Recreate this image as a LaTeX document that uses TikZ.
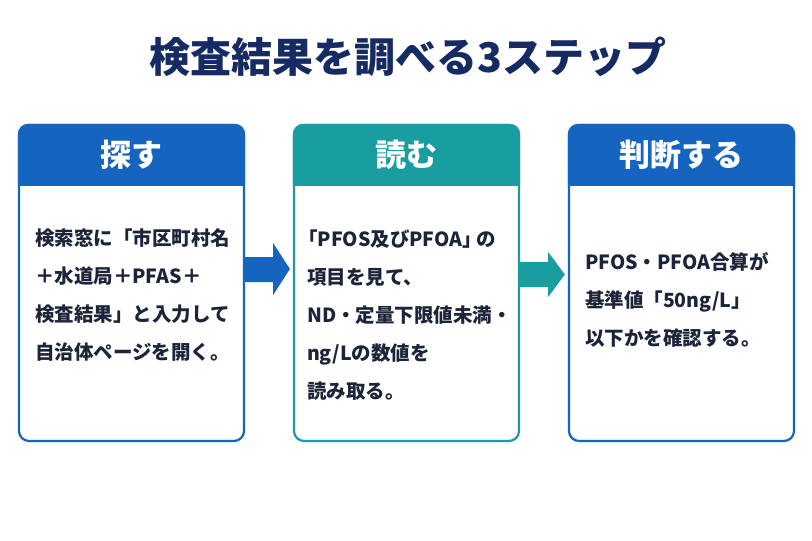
\documentclass[tikz,border=0pt]{standalone}
\usepackage{fontspec}
\setmainfont{Noto Sans CJK JP}
\usetikzlibrary{calc}
\usetikzlibrary{positioning}
\definecolor{blue1}{RGB}{21,101,192}
\definecolor{teal1}{RGB}{24,158,160}
\definecolor{navy1}{RGB}{22,43,99}
\definecolor{ink1}{RGB}{28,36,58}

\tikzset{
	stepbox/.style={draw=#1, line width=2.2pt, rounded corners=10pt, minimum width=225pt, minimum height=316pt, inner sep=0pt},
	headtext/.style={text=white, font=\fontsize{31}{31}\selectfont\bfseries},
	bodytext/.style={text=ink1, align=left, inner sep=0pt, anchor=west, font=\fontsize{19.5}{38}\selectfont\bfseries},
}

\begin{document}
\begin{tikzpicture}[x=1pt,y=-1pt]
	\useasboundingbox[fill=white] (0,0) rectangle (812,541);

	\node[text=navy1, font=\fontsize{41}{41}\selectfont\bfseries] (title) at (408,57) {検査結果を調べる3ステップ};

\foreach \i/\cx/\col/\head in {1/131.5/blue1/探す, 2/406.5/teal1/読む, 3/681.5/blue1/判断する}
{
	\node[stepbox=\col] (step\i) at (\cx,283) {};
	\begin{scope}
		\clip ($(step\i.north west)+(-3,-3)$) rectangle ($(step\i.east |- 0,185)+(3,0)$);
		\fill[\col, rounded corners=10pt] (step\i.north west) rectangle (step\i.south east);
	\end{scope}
	\node[headtext] (head\i) at ($(step\i.north)+(0,31)$) {\head};
}

	\node[bodytext] (text1) at ($(step1.west)+(17,12.5)$) {検索窓に「市区町村名\\＋水道局＋PFAS＋\\検査結果」と入力して\\自治体ページを開く。};
	\node[bodytext] (text2) at ($(step2.west)+(14,32)$) {\kern-0.45em「PFOS及びPFOA」\kern-0.3emの\\項目を見て、\\ND・定量下限値未満・\\ng/Lの数値を\\読み取る。};
	\node[bodytext] (text3) at ($(step3.west)+(17,17)$) {PFOS・PFOA合算が\\基準値「50ng/L」\\以下かを確認する。};

	% arrows between the steps
	\fill[blue1] ($(step1.east)+(-1,-26)$) -- ($(step1.east)+(28,-26)$) -- ($(step1.east)+(28,-40)$) -- ($(step2.west)+(-3,-14)$) -- ($(step1.east)+(28,12)$) -- ($(step1.east)+(28,-1)$) -- ($(step1.east)+(-1,-1)$) -- cycle;
	\fill[teal1] ($(step2.east)+(0,-21)$) -- ($(step2.east)+(28,-21)$) -- ($(step2.east)+(28,-31)$) -- ($(step3.west)+(-3,-8.5)$) -- ($(step2.east)+(28,14)$) -- ($(step2.east)+(28,4)$) -- ($(step2.east)+(0,4)$) -- cycle;

\end{tikzpicture}
\end{document}
